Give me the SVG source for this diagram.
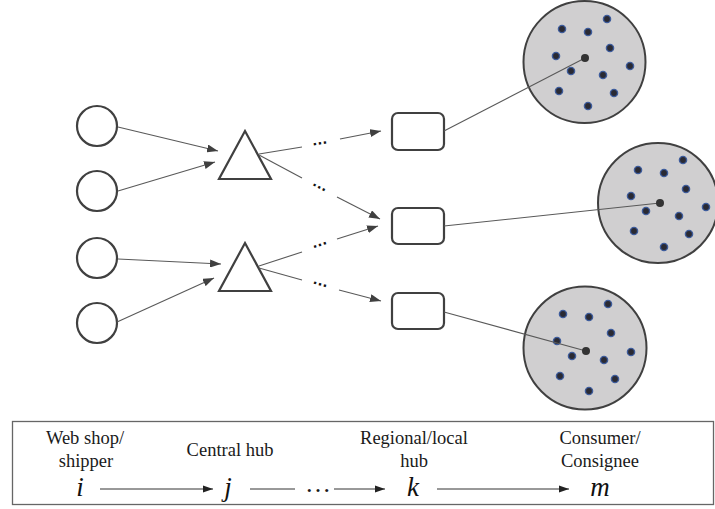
<svg xmlns="http://www.w3.org/2000/svg" width="715" height="509" viewBox="0 0 715 509">
<style>
.src{fill:#fff;stroke:#404040;stroke-width:2.2}
.tri{fill:#fff;stroke:#404040;stroke-width:2.2;stroke-linejoin:miter}
.hub{fill:#fff;stroke:#404040;stroke-width:2.2}
.area{fill:#d0cfd0;stroke:#404040;stroke-width:2}
.cust{fill:#2a2a33;stroke:#3d5c9c;stroke-width:1.4}
.ctr{fill:#333}
.ln{stroke:#595959;stroke-width:1.1;fill:none}
.arr{stroke:#595959;stroke-width:1.1;fill:none;marker-end:url(#ah)}
.barr{stroke:#333;stroke-width:1;fill:none;marker-end:url(#bh)}
.dots{font-family:"Liberation Sans",Arial,sans-serif;font-size:16px;font-weight:bold;fill:#111;text-anchor:middle}
.lbl{font-family:"Liberation Serif","Times New Roman",serif;font-size:18.5px;fill:#1a1a1a;text-anchor:middle}
.math{font-family:"Liberation Serif","Times New Roman",serif;font-style:italic;font-size:27px;fill:#111;text-anchor:middle}
</style>
<defs>
<marker id="ah" markerUnits="userSpaceOnUse" markerWidth="11" markerHeight="8" refX="11" refY="4" orient="auto">
<path d="M0,0 L11,4 L0,8 z" fill="#404040"/>
</marker>
<marker id="bh" markerUnits="userSpaceOnUse" markerWidth="10" markerHeight="8" refX="10" refY="4" orient="auto">
<path d="M0,0.5 L10,4 L0,7.5 z" fill="#222"/>
</marker>
</defs>

<g id="shipper1"><circle class="src" cx="97" cy="126" r="20"/></g>
<g id="shipper2"><circle class="src" cx="97" cy="191" r="20"/></g>
<g id="shipper3"><circle class="src" cx="97" cy="258" r="20"/></g>
<g id="shipper4"><circle class="src" cx="97" cy="323" r="20"/></g>

<g id="central1"><polygon class="tri" points="245,131 271,179 219,179"/></g>
<g id="central2"><polygon class="tri" points="245,243 271,291 219,291"/></g>

<g id="regional1"><rect class="hub" x="392" y="113" width="52" height="37" rx="6"/></g>
<g id="regional2"><rect class="hub" x="392" y="208" width="52" height="36" rx="6"/></g>
<g id="regional3"><rect class="hub" x="392" y="293" width="52" height="36" rx="6"/></g>

<g id="area1">
<circle class="area" cx="584.5" cy="62" r="61"/>
<circle class="cust" cx="562" cy="29" r="3.6"/>
<circle class="cust" cx="588" cy="32" r="3.6"/>
<circle class="cust" cx="607" cy="19" r="3.6"/>
<circle class="cust" cx="610" cy="48" r="3.6"/>
<circle class="cust" cx="556" cy="56" r="3.6"/>
<circle class="cust" cx="571" cy="71" r="3.6"/>
<circle class="cust" cx="603" cy="75" r="3.6"/>
<circle class="cust" cx="630" cy="66" r="3.6"/>
<circle class="cust" cx="559" cy="91" r="3.6"/>
<circle class="cust" cx="614" cy="93" r="3.6"/>
<circle class="cust" cx="588" cy="106" r="3.6"/>
</g>

<g id="area2">
<circle class="area" cx="658" cy="203" r="60"/>
<circle class="cust" cx="638" cy="170" r="3.6"/>
<circle class="cust" cx="664" cy="173" r="3.6"/>
<circle class="cust" cx="683" cy="160" r="3.6"/>
<circle class="cust" cx="686" cy="189" r="3.6"/>
<circle class="cust" cx="631" cy="196" r="3.6"/>
<circle class="cust" cx="646" cy="211" r="3.6"/>
<circle class="cust" cx="679" cy="216" r="3.6"/>
<circle class="cust" cx="706" cy="207" r="3.6"/>
<circle class="cust" cx="634" cy="231" r="3.6"/>
<circle class="cust" cx="689" cy="234" r="3.6"/>
<circle class="cust" cx="664" cy="247" r="3.6"/>
</g>

<g id="area3">
<circle class="area" cx="585" cy="348" r="61.5"/>
<circle class="cust" cx="563" cy="314" r="3.6"/>
<circle class="cust" cx="589" cy="317" r="3.6"/>
<circle class="cust" cx="608" cy="304" r="3.6"/>
<circle class="cust" cx="611" cy="333" r="3.6"/>
<circle class="cust" cx="557" cy="341" r="3.6"/>
<circle class="cust" cx="572" cy="356" r="3.6"/>
<circle class="cust" cx="604" cy="360" r="3.6"/>
<circle class="cust" cx="631" cy="352" r="3.6"/>
<circle class="cust" cx="560" cy="376" r="3.6"/>
<circle class="cust" cx="615" cy="379" r="3.6"/>
<circle class="cust" cx="589" cy="391" r="3.6"/>
</g>

<g id="connectors">
<line class="arr" x1="118" y1="127" x2="218" y2="151"/>
<line class="arr" x1="118" y1="191" x2="215" y2="162"/>
<line class="arr" x1="118" y1="259" x2="221" y2="264"/>
<line class="arr" x1="117" y1="322" x2="214" y2="278"/>

<line class="ln" x1="259" y1="154" x2="302" y2="147"/>
<text class="dots" transform="translate(320,143.5) rotate(-9)" y="1">…</text>
<line class="arr" x1="340" y1="139" x2="381" y2="131"/>

<line class="ln" x1="259" y1="155" x2="302" y2="178"/>
<text class="dots" transform="translate(319,187.5) rotate(27)" y="1">…</text>
<line class="arr" x1="337" y1="197" x2="380" y2="219"/>

<line class="ln" x1="259" y1="266" x2="302" y2="252"/>
<text class="dots" transform="translate(320,245) rotate(-18)" y="1">…</text>
<line class="arr" x1="337" y1="239" x2="378" y2="226"/>

<line class="ln" x1="259" y1="268" x2="302" y2="280"/>
<text class="dots" transform="translate(320,284.5) rotate(16)" y="1">…</text>
<line class="arr" x1="339" y1="290" x2="381" y2="301"/>

<line class="ln" x1="444" y1="131" x2="585" y2="58"/>
<line class="ln" x1="444" y1="226" x2="660" y2="203"/>
<line class="ln" x1="444" y1="312" x2="586" y2="351"/>
<circle class="ctr" cx="585" cy="58" r="4"/>
<circle class="ctr" cx="660" cy="203" r="4"/>
<circle class="ctr" cx="586" cy="351" r="4"/>
</g>

<g id="legend">
<rect x="12.5" y="421.5" width="701" height="83" fill="#fff" stroke="#666" stroke-width="1.3"/>
<text class="lbl" x="85" y="444">Web shop/</text>
<text class="lbl" x="86" y="467">shipper</text>
<text class="lbl" x="230" y="456">Central hub</text>
<text class="lbl" x="414" y="444">Regional/local</text>
<text class="lbl" x="414" y="467">hub</text>
<text class="lbl" x="600" y="444">Consumer/</text>
<text class="lbl" x="600" y="467">Consignee</text>
<text class="math" x="80" y="496">i</text>
<text class="math" x="228" y="496">j</text>
<text class="math" x="413" y="496">k</text>
<text class="math" x="600" y="496">m</text>
<line class="barr" x1="100" y1="489" x2="213" y2="489"/>
<line x1="250" y1="489" x2="295" y2="489" stroke="#333" stroke-width="1"/>
<text class="lbl" x="318" y="492" style="font-size:26px">…</text>
<line class="barr" x1="334" y1="489" x2="385" y2="489"/>
<line class="barr" x1="437" y1="489" x2="569" y2="489"/>
</g>
</svg>
